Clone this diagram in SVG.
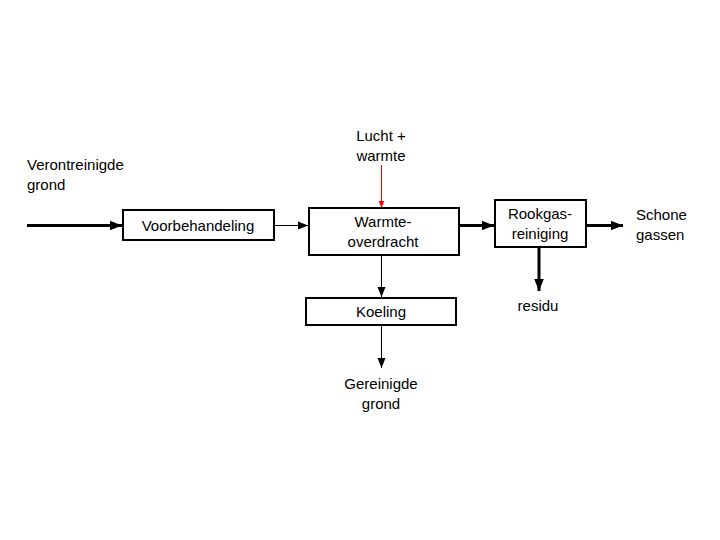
<svg xmlns="http://www.w3.org/2000/svg" width="720" height="540" viewBox="0 0 720 540">
<style>
text{font-family:"Liberation Sans",Arial,sans-serif;font-size:15px;fill:#000}
.c{text-anchor:middle}
.box{fill:#fff;stroke:#000;stroke-width:2}
.thin{stroke:#000;stroke-width:1;fill:none}
.thick{stroke:#000;stroke-width:3;fill:none}
.red{stroke:#f00;stroke-width:1;fill:none}
</style>
<defs>
<marker id="ah" viewBox="0 0 10 10" refX="10" refY="5" markerWidth="10" markerHeight="10" markerUnits="userSpaceOnUse" orient="auto"><path d="M0,1 L10,5 L0,9 Z" fill="#000"/></marker>
<marker id="ahT" viewBox="0 0 10 10" refX="10" refY="5" markerWidth="12" markerHeight="12" markerUnits="userSpaceOnUse" orient="auto"><path d="M0,1 L10,5 L0,9 Z" fill="#000"/></marker>
<marker id="ahR" viewBox="0 0 10 10" refX="10" refY="5" markerWidth="7" markerHeight="7" markerUnits="userSpaceOnUse" orient="auto"><path d="M0,1 L10,5 L0,9 Z" fill="#f00"/></marker>
</defs>
<rect width="720" height="540" fill="#fff"/>
<g id="connectors">
<line class="thick" x1="27" y1="225.5" x2="122" y2="225.5" marker-end="url(#ahT)"/>
<line class="thin" x1="274" y1="225.5" x2="308" y2="225.5" marker-end="url(#ah)"/>
<line class="red" x1="381.5" y1="165" x2="381.5" y2="208" marker-end="url(#ahR)"/>
<line class="thick" x1="459" y1="225.5" x2="494" y2="225.5" marker-end="url(#ahT)"/>
<line class="thick" x1="586" y1="225.5" x2="623" y2="225.5" marker-end="url(#ahT)"/>
<line class="thick" x1="539" y1="248" x2="539" y2="291" marker-end="url(#ahT)"/>
<line class="thin" x1="381.5" y1="255" x2="381.5" y2="297" marker-end="url(#ah)"/>
<line class="thin" x1="381.5" y1="326" x2="381.5" y2="368" marker-end="url(#ah)"/>
</g>
<g id="input-label">
<text x="27" y="170">Verontreinigde</text>
<text x="27" y="190">grond</text>
</g>
<g id="lucht-label">
<text class="c" x="381" y="141">Lucht +</text>
<text class="c" x="381" y="161">warmte</text>
</g>
<g id="voorbehandeling">
<rect class="box" x="123" y="210" width="151" height="30"/>
<text class="c" x="198" y="231">Voorbehandeling</text>
</g>
<g id="warmteoverdracht">
<rect class="box" x="309" y="208" width="150" height="47"/>
<text class="c" x="383" y="227">Warmte-</text>
<text class="c" x="383" y="247">overdracht</text>
</g>
<g id="rookgasreiniging">
<rect class="box" x="495" y="200" width="91" height="47"/>
<text class="c" x="540" y="219">Rookgas-</text>
<text class="c" x="540" y="239">reiniging</text>
</g>
<g id="schone-label">
<text x="636" y="220">Schone</text>
<text x="636" y="240">gassen</text>
</g>
<g id="residu-label">
<text class="c" x="538" y="311">residu</text>
</g>
<g id="koeling">
<rect class="box" x="306" y="298" width="150" height="27"/>
<text class="c" x="381" y="317">Koeling</text>
</g>
<g id="output-label">
<text class="c" x="381" y="389">Gereinigde</text>
<text class="c" x="381" y="409">grond</text>
</g>
</svg>
